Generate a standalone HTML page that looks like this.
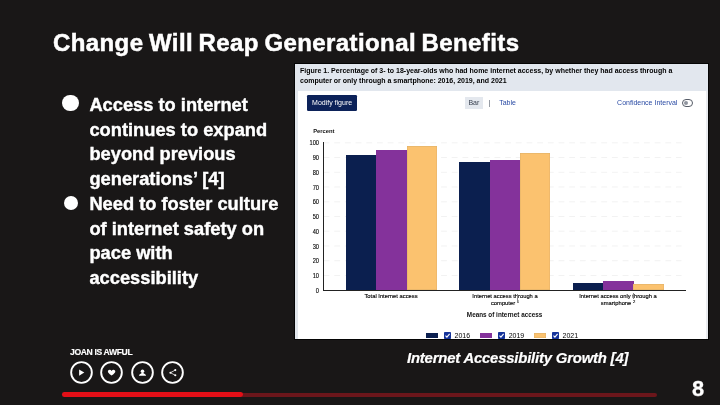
<!DOCTYPE html>
<html lang="en">
<head>
<meta charset="utf-8">
<title>Change Will Reap Generational Benefits</title>
<style>
  html, body { margin: 0; padding: 0; }
  body {
    width: 720px; height: 405px; overflow: hidden;
    background: #191717;
    font-family: "Liberation Sans", sans-serif;
    color: #fff;
    position: relative;
  }
  .abs { position: absolute; white-space: nowrap; }
  #title {
    left: 53px; top: 27.6px;
    font-size: 24px; font-weight: bold; line-height: 30px;
    letter-spacing: 0.4px; word-spacing: -1.5px;
    -webkit-text-stroke: 0.5px #fff;
  }
  .bl { left: 89.4px; font-size: 18.3px; font-weight: bold; line-height: 24.5px; letter-spacing: 0; -webkit-text-stroke: 0.4px #fff; }
  .dot { position: absolute; width: 14px; height: 14px; border-radius: 50%; background: #fff; }
  #joan { left: 70px; top: 346.4px; font-size: 8.6px; font-weight: bold; line-height: 12px; letter-spacing: -0.36px; -webkit-text-stroke: 0.15px #fff; }
  .ic { position: absolute; top: 361.2px; width: 23px; height: 23px; }
  .ic svg { position: absolute; left: 0; top: 0; width: 23px; height: 23px; overflow: visible; }
  #bar-dark { position: absolute; left: 62px; top: 392.7px; width: 595px; height: 4.4px; border-radius: 2.2px; background: #6b161b; }
  #bar-red { position: absolute; left: 61.8px; top: 392.2px; width: 181px; height: 4.8px; border-radius: 2.4px; background: #e30f17; }
  #pageno { left: 692.1px; top: 376.4px; font-size: 21.8px; font-weight: bold; line-height: 26px; -webkit-text-stroke: 0.3px #fff; }
  #caption { left: 407px; top: 349.45px; font-size: 14.9px; font-weight: bold; font-style: italic; line-height: 18px; letter-spacing: -0.2px; -webkit-text-stroke: 0.2px #fff; }

  /* figure panel */
  #fig { position: absolute; left: 295px; top: 64px; width: 413px; height: 275px; background: #fff; overflow: hidden; color: #1b1b1b; box-shadow: 0 0 0 1px #050505; }
  #fig .hd { position: absolute; left: 0; top: 0; width: 413px; height: 27px; background: #e2e7ee; }
  #fig .lb { position: absolute; left: 0; top: 0; width: 2.8px; height: 275px; background: #e2e6ec; }
  #fig .rb { position: absolute; left: 411.3px; top: 27px; width: 1.7px; height: 248px; background: #e9ebef; }
  #fig .t { position: absolute; white-space: nowrap; }
  .ft { left: 5px; font-size: 7px; font-weight: bold; line-height: 9.6px; color: #000; }
  #btn { position: absolute; left: 12.3px; top: 31.2px; width: 49.6px; height: 15.6px; background: #0c2259; border-radius: 1.2px; color: #fff; font-size: 7px; line-height: 15.6px; text-align: center; }
  #bartab { position: absolute; left: 170px; top: 32.5px; width: 17.8px; height: 12.3px; background: #e4e8ee; color: #3a4250; font-size: 7px; line-height: 12.3px; text-align: center; }
  .blue { color: #2a4ba4; font-size: 7px; line-height: 10px; }
  .tick { font-size: 6.5px; line-height: 7px; width: 20px; text-align: right; left: 3.9px; color: #000; transform: scaleX(0.87); transform-origin: 100% 50%; -webkit-text-stroke: 0.12px #000; }
  .xl { font-size: 6.1px; line-height: 6.9px; text-align: center; color: #000; transform: scaleX(0.95); transform-origin: 50% 50%; -webkit-text-stroke: 0.15px #000; }
  .bar { position: absolute; }
  .navy { background: #0b1f4f; }
  .purple { background: #84329b; }
  .orange { background: #fbc26f; box-shadow: inset 0 0 0 0.4px #dcae68; }
  .lg { font-size: 7px; line-height: 8px; color: #000; }
  .cb { position: absolute; top: 268px; width: 7px; height: 7px; background: #15339a; border-radius: 0.8px; }
  .cb svg { position: absolute; left: 0; top: 0; width: 7px; height: 7px; }
</style>
</head>
<body>

<div id="title" class="abs">Change Will Reap Generational Benefits</div>

<div class="dot" style="left:62.4px; top:94.8px; width:16.6px; height:16.6px;"></div>
<div class="abs bl" style="top:93px;">Access to internet</div>
<div class="abs bl" style="top:117.5px;">continues to expand</div>
<div class="abs bl" style="top:142px;">beyond previous</div>
<div class="abs bl" style="top:166.5px;">generations’ [4]</div>
<div class="dot" style="left:63.7px; top:196.2px; width:14.1px; height:14.1px;"></div>
<div class="abs bl" style="top:191.9px;">Need to foster culture</div>
<div class="abs bl" style="top:216.6px;">of internet safety on</div>
<div class="abs bl" style="top:241.3px;">pace with</div>
<div class="abs bl" style="top:266px;">accessibility</div>

<div id="fig">
  <div class="hd"></div>
  <div class="lb"></div>
  <div class="rb"></div>
  <div class="t ft" style="top:2.2px;">Figure 1. Percentage of 3- to 18-year-olds who had home internet access, by whether they had access through a</div>
  <div class="t ft" style="top:11.5px;">computer or only through a smartphone: 2016, 2019, and 2021</div>

  <div id="btn">Modify figure</div>
  <div id="bartab">Bar</div>
  <div class="t" style="left:193.5px; top:33.5px; font-size:7px; line-height:10px; color:#4a5260;">|</div>
  <div class="t blue" style="left:204.2px; top:33.6px;">Table</div>
  <div class="t blue" style="left:322.1px; top:33.6px;">Confidence Interval</div>
  <div style="position:absolute; left:386.7px; top:35.1px; width:11.5px; height:7.9px; border:1px solid #555b66; border-radius:4px; box-sizing:border-box; background:#fff;">
    <div style="position:absolute; left:0.9px; top:0.9px; width:4.1px; height:4.1px; border-radius:50%; background:#90959f;"></div>
  </div>

  <div class="t" style="left:18.2px; top:62.5px; font-size:5.8px; font-weight:bold; line-height:8px; color:#111;">Percent</div>

  <svg style="position:absolute; left:0; top:0;" width="413" height="275" viewBox="0 0 413 275">
    <g stroke="#e9e9e9" stroke-width="0.6" stroke-dasharray="5.8 4.88" fill="none">
      <line x1="28.6" y1="78.8" x2="386.5" y2="78.8"/>
      <line x1="28.6" y1="93.5" x2="386.5" y2="93.5"/>
      <line x1="28.6" y1="108.3" x2="386.5" y2="108.3"/>
      <line x1="28.6" y1="123" x2="386.5" y2="123"/>
      <line x1="28.6" y1="137.8" x2="386.5" y2="137.8"/>
      <line x1="28.6" y1="152.5" x2="386.5" y2="152.5"/>
      <line x1="28.6" y1="167.2" x2="386.5" y2="167.2"/>
      <line x1="28.6" y1="182" x2="386.5" y2="182"/>
      <line x1="28.6" y1="196.7" x2="386.5" y2="196.7"/>
      <line x1="28.6" y1="211.5" x2="386.5" y2="211.5"/>
    </g>
  </svg>

  <div class="t tick" style="top:75.3px;">100</div>
  <div class="t tick" style="top:90px;">90</div>
  <div class="t tick" style="top:104.8px;">80</div>
  <div class="t tick" style="top:119.5px;">70</div>
  <div class="t tick" style="top:134.3px;">60</div>
  <div class="t tick" style="top:149px;">50</div>
  <div class="t tick" style="top:163.7px;">40</div>
  <div class="t tick" style="top:178.5px;">30</div>
  <div class="t tick" style="top:193.2px;">20</div>
  <div class="t tick" style="top:208px;">10</div>
  <div class="t tick" style="top:222.7px;">0</div>

  <!-- bars: axis y = 226.2 (panel coords) -->
  <div class="bar navy"   style="left:50.9px;  width:31px; top:91px;    height:135.2px;"></div>
  <div class="bar purple" style="left:81.2px;  width:31px; top:86.3px;  height:139.9px;"></div>
  <div class="bar orange" style="left:111.5px; width:30.3px; top:82.3px;  height:143.9px;"></div>

  <div class="bar navy"   style="left:164.4px; width:31px; top:98.1px;  height:128.1px;"></div>
  <div class="bar purple" style="left:194.7px; width:31px; top:96.1px;  height:130.1px;"></div>
  <div class="bar orange" style="left:225px;   width:30.3px; top:89.2px;  height:137px;"></div>

  <div class="bar navy"   style="left:277.7px; width:31px; top:219.2px; height:7px;"></div>
  <div class="bar purple" style="left:308px;   width:31px; top:216.7px; height:9.5px;"></div>
  <div class="bar orange" style="left:338.3px; width:30.3px; top:220px;   height:6.2px;"></div>

  <!-- axes -->
  <div style="position:absolute; left:28px; top:78.4px; width:0.65px; height:148px; background:#222;"></div>
  <div style="position:absolute; left:28px; top:225.8px; width:363px; height:0.65px; background:#222;"></div>

  <div class="t xl" style="left:46.4px; width:100px; top:229px;">Total Internet access</div>
  <div class="t xl" style="left:159.8px; width:100px; top:229px;">Internet access through a<br>computer <span style="font-size:4.4px; position:relative; top:-2px;">1</span></div>
  <div class="t xl" style="left:273px; width:100px; top:229px;">Internet access only through a<br>smartphone <span style="font-size:4.4px; position:relative; top:-2px;">2</span></div>

  <div style="position:absolute; left:222px; top:229.6px; width:0.5px; height:9px; background:#8a8a8a;"></div>
  <div style="position:absolute; left:338.2px; top:229.4px; width:0.5px; height:6px; background:#8a8a8a;"></div>
  <div class="t" style="left:109.6px; width:200px; text-align:center; top:246.5px; font-size:6.35px; font-weight:bold; line-height:8px; color:#111;">Means of internet access</div>

  <!-- legend -->
  <div class="bar navy" style="left:131.2px; top:269.2px; width:11.8px; height:4.4px;"></div>
  <div class="cb" style="left:148.8px;"><svg viewBox="0 0 7 7"><path d="M1.5 3.7 L2.9 5.1 L5.6 1.9" stroke="#fff" stroke-width="1.1" fill="none"/></svg></div>
  <div class="t lg" style="left:159.5px; top:267.7px;">2016</div>

  <div class="bar purple" style="left:185px; top:269.2px; width:11.8px; height:4.4px;"></div>
  <div class="cb" style="left:202.5px;"><svg viewBox="0 0 7 7"><path d="M1.5 3.7 L2.9 5.1 L5.6 1.9" stroke="#fff" stroke-width="1.1" fill="none"/></svg></div>
  <div class="t lg" style="left:213.7px; top:267.7px;">2019</div>

  <div class="bar orange" style="left:239.2px; top:269.2px; width:11.8px; height:4.4px;"></div>
  <div class="cb" style="left:256.8px;"><svg viewBox="0 0 7 7"><path d="M1.5 3.7 L2.9 5.1 L5.6 1.9" stroke="#fff" stroke-width="1.1" fill="none"/></svg></div>
  <div class="t lg" style="left:267.5px; top:267.7px;">2021</div>
</div>

<div id="caption" class="abs">Internet Accessibility Growth [4]</div>

<div id="joan" class="abs">JOAN IS AWFUL</div>

<div class="ic" style="left:69.9px;"><svg viewBox="-2 -2 23 23"><circle cx="9.5" cy="9.5" r="10.35" fill="none" stroke="#fff" stroke-width="1.9"/><path d="M7.1 6.4 L12.3 9.55 L7.1 12.7 Z" fill="#fff"/></svg></div>
<div class="ic" style="left:99.9px;"><svg viewBox="-2 -2 23 23"><circle cx="9.5" cy="9.5" r="10.35" fill="none" stroke="#fff" stroke-width="1.9"/><path d="M9.6 12.6 C 6.6 10.4 5.9 9.5 5.9 8.5 C 5.9 7.5 6.7 6.8 7.7 6.8 C 8.5 6.8 9.2 7.2 9.6 7.9 C 10 7.2 10.7 6.8 11.5 6.8 C 12.5 6.8 13.3 7.5 13.3 8.5 C 13.3 9.5 12.6 10.4 9.6 12.6 Z" fill="#fff"/></svg></div>
<div class="ic" style="left:130.9px;"><svg viewBox="-2 -2 23 23"><circle cx="9.5" cy="9.5" r="10.35" fill="none" stroke="#fff" stroke-width="1.9"/><circle cx="9.5" cy="8.3" r="1.75" fill="#fff"/><path d="M5.9 12.8 C6 11.3 7.4 10.8 8.3 10.4 L8.6 9.4 L10.4 9.4 L10.7 10.4 C11.6 10.8 13 11.3 13.1 12.8 Z" fill="#fff"/></svg></div>
<div class="ic" style="left:161.0px;"><svg viewBox="-2 -2 23 23"><circle cx="9.5" cy="9.5" r="10.35" fill="none" stroke="#fff" stroke-width="1.9"/><g fill="#fff"><circle cx="12.3" cy="7.1" r="1.05"/><circle cx="7.4" cy="9.7" r="1.05"/><circle cx="12.3" cy="12.3" r="1.05"/></g><path d="M12.3 7.1 L7.4 9.7 L12.3 12.3" stroke="#fff" stroke-width="0.75" fill="none"/></svg></div>

<div id="bar-dark"></div>
<div id="bar-red"></div>

<div id="pageno" class="abs">8</div>

</body>
</html>
